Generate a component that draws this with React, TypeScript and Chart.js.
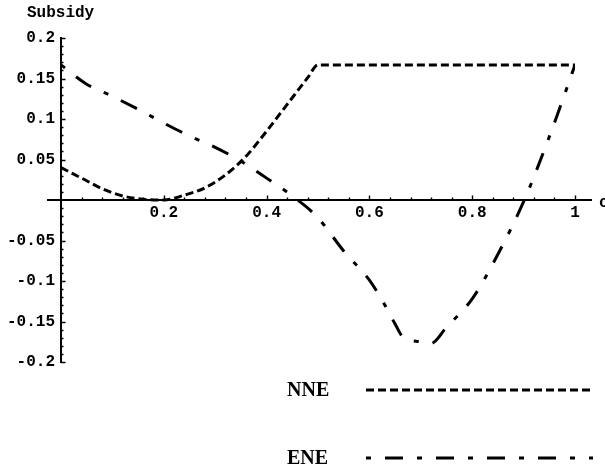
import React, { useEffect, useRef } from "react";
import { Chart, registerables } from "chart.js";

Chart.register(...registerables);

// ---- data ----
const seriesNames = ["NNE", "ENE"];
const nneX = [0, 0.04, 0.08, 0.12, 0.16, 0.2, 0.24, 0.28, 0.32, 0.36, 0.4, 0.44, 0.48, 0.5, 1];
const nneY = [0.04, 0.027, 0.014, 0.005, 0.001, 0.0, 0.006, 0.015, 0.031, 0.054, 0.085, 0.118, 0.151, 0.1667, 0.1667];
const eneX = [0, 0.05, 0.1, 0.15, 0.2, 0.25, 0.3, 0.35, 0.4, 0.45, 0.5, 0.55, 0.6, 0.625, 0.65, 0.665, 0.7, 0.72, 0.75, 0.8, 0.85, 0.9, 0.95, 1];
const eneY = [0.1667, 0.143, 0.128, 0.112, 0.095, 0.079, 0.065, 0.048, 0.027, 0.005, -0.022, -0.063, -0.099, -0.124, -0.153, -0.169, -0.175, -0.177, -0.157, -0.122, -0.067, -0.002, 0.078, 0.1667];

const xTickValues = [0.2, 0.4, 0.6, 0.8, 1];
const xTickLabels = ["0.2", "0.4", "0.6", "0.8", "1"];
const yTickValues = [-0.2, -0.15, -0.1, -0.05, 0.05, 0.1, 0.15, 0.2];
const yTickLabels = ["-0.2", "-0.15", "-0.1", "-0.05", "0.05", "0.1", "0.15", "0.2"];
const xMinorStep = 0.04;
const yMinorStep = 0.01;
const yAxisTitle = "Subsidy";
const xAxisTitle = "c";

const MONO = "'Liberation Mono', 'DejaVu Sans Mono', monospace";
const SERIF = "'Liberation Serif', 'DejaVu Serif', serif";

function labelFor(values: number[], labels: string[], v: number): string {
  for (let i = 0; i < values.length; i++) {
    if (Math.abs(values[i] - v) < 1e-6) return labels[i];
  }
  return "";
}

const decorPlugin = {
  id: "decor",
  afterDraw(chart: any) {
    const ctx = chart.ctx as CanvasRenderingContext2D;
    const xs = chart.scales.x;
    const ys = chart.scales.y;
    const x0 = xs.getPixelForValue(0);
    const y0 = ys.getPixelForValue(0);
    ctx.save();
    ctx.strokeStyle = "#000";
    ctx.setLineDash([]);
    // axis extensions (the axes overshoot the plot range)
    ctx.lineWidth = 2;
    ctx.beginPath();
    ctx.moveTo(x0 - 14, y0);
    ctx.lineTo(x0, y0);
    ctx.moveTo(xs.right, y0);
    ctx.lineTo(xs.right + 17, y0);
    ctx.stroke();
    // inward ticks
    ctx.lineWidth = 1.4;
    ctx.beginPath();
    const nx = Math.round((xs.max - xs.min) / xMinorStep);
    for (let i = 1; i <= nx; i++) {
      const v = xs.min + i * xMinorStep;
      const px = Math.round(xs.getPixelForValue(v)) + 0.5;
      const major = i % 5 === 0;
      ctx.moveTo(px, y0);
      ctx.lineTo(px, y0 - (major ? 4.5 : 2.5));
    }
    const ny = Math.round((ys.max - ys.min) / yMinorStep);
    for (let i = 0; i <= ny; i++) {
      const v = ys.min + i * yMinorStep;
      if (Math.abs(v) < 1e-9) continue;
      const py = Math.round(ys.getPixelForValue(v)) + 0.5;
      const major = i % 5 === 0;
      ctx.moveTo(x0, py);
      ctx.lineTo(x0 + (major ? 4.5 : 2.5), py);
    }
    ctx.stroke();
    // axis titles
    ctx.fillStyle = "#000";
    ctx.font = `bold 16px ${MONO}`;
    ctx.textAlign = "left";
    ctx.textBaseline = "alphabetic";
    ctx.fillText(yAxisTitle, 27, 17);
    ctx.textBaseline = "middle";
    ctx.fillText(xAxisTitle, xs.right + 24, y0 + 3);
    // legend
    const rows = [390, 458];
    chart.data.datasets.forEach((ds: any, i: number) => {
      const y = rows[i];
      ctx.font = `bold 20px ${SERIF}`;
      ctx.textAlign = "left";
      ctx.textBaseline = "middle";
      ctx.fillStyle = "#000";
      ctx.fillText(ds.label, 287, y + 1);
      ctx.strokeStyle = ds.borderColor;
      ctx.lineWidth = ds.borderWidth;
      ctx.lineCap = "butt";
      ctx.setLineDash(ds.borderDash || []);
      ctx.beginPath();
      ctx.moveTo(366, y);
      ctx.lineTo(593, y);
      ctx.stroke();
    });
    ctx.restore();
  },
};

export default function App() {
  const canvasRef = useRef<HTMLCanvasElement | null>(null);

  useEffect(() => {
    const canvas = canvasRef.current;
    if (!canvas) return;
    const chart = new Chart(canvas, {
      type: "line",
      data: {
        datasets: [
          {
            label: seriesNames[0],
            data: nneX.map((x, i) => ({ x, y: nneY[i] })),
            borderColor: "#000",
            borderWidth: 3,
            borderDash: [8, 4],
            pointRadius: 0,
            fill: false,
            cubicInterpolationMode: "monotone",
          },
          {
            label: seriesNames[1],
            data: eneX.map((x, i) => ({ x, y: eneY[i] })),
            borderColor: "#000",
            borderWidth: 3,
            borderDash: [5, 14, 18, 14],
            pointRadius: 0,
            fill: false,
            cubicInterpolationMode: "monotone",
          },
        ],
      },
      options: {
        responsive: false,
        animation: false,
        layout: { padding: { left: 0, right: 30, top: 38, bottom: 106 } },
        plugins: {
          legend: { display: false },
          tooltip: { enabled: false },
        },
        scales: {
          x: {
            type: "linear",
            min: 0,
            max: 1,
            position: { y: 0 } as any,
            afterBuildTicks: (scale: any) => {
              scale.ticks = xTickValues.map((v) => ({ value: v }));
            },
            grid: { display: true, drawOnChartArea: false, drawTicks: false },
            border: { display: true, color: "#000", width: 2 },
            ticks: {
              padding: 3,
              color: "#000",
              maxRotation: 0,
              autoSkip: false,
              font: { family: MONO, size: 16, weight: "bold" },
              callback: (v: any) => labelFor(xTickValues, xTickLabels, Number(v)),
            },
          },
          y: {
            type: "linear",
            min: -0.2,
            max: 0.2,
            position: "left",
            afterFit: (scale: any) => {
              scale.width = 61;
            },
            afterBuildTicks: (scale: any) => {
              scale.ticks = yTickValues.map((v) => ({ value: v }));
            },
            grid: { display: true, drawOnChartArea: false, drawTicks: false },
            border: { display: true, color: "#000", width: 2 },
            ticks: {
              padding: 6,
              color: "#000",
              autoSkip: false,
              font: { family: MONO, size: 16, weight: "bold" },
              callback: (v: any) => labelFor(yTickValues, yTickLabels, Number(v)),
            },
          },
        },
      },
      plugins: [decorPlugin],
    });
    return () => chart.destroy();
  }, []);

  return (
    <div style={{ position: "absolute", left: 0, top: 0, width: 605, height: 468, background: "#fff" }}>
      <canvas ref={canvasRef} width={605} height={468} />
    </div>
  );
}
